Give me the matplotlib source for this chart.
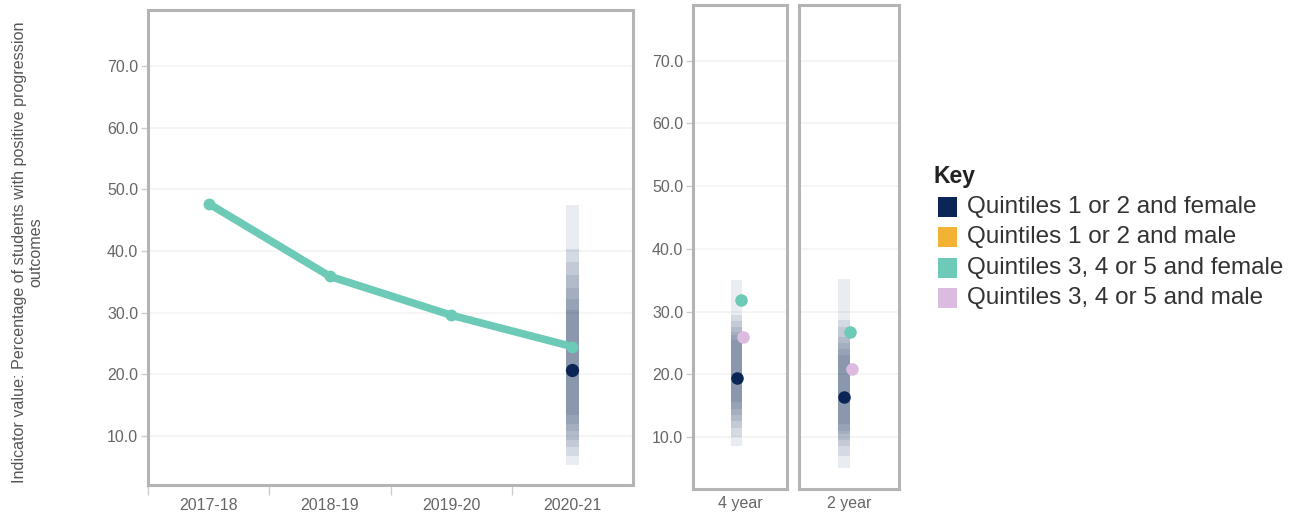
import numpy as np
import matplotlib.pyplot as plt
from matplotlib.patches import Rectangle

plt.rcParams['font.family'] = ['Liberation Sans', 'DejaVu Sans']

# trend for Quintiles 3, 4 or 5 and female
years = ["2017-18", "2018-19", "2019-20", "2020-21"]
q345_female_trend = [47.7, 35.9, 29.6, 24.5]
q12_female_latest = 20.7

# split by course length
lengths = ["4 year", "2 year"]
q12_female = [19.4, 16.3]
q345_female = [31.9, 26.8]
q345_male = [25.9, 20.9]

# nested uncertainty intervals (low, high), drawn as stacked translucent bars
band_latest = [(5.3, 47.4), (6.8, 40.3), (8.2, 38.2), (9.4, 36.1),
               (10.8, 34.0), (12.0, 32.2), (13.4, 30.4)]
band_lengths = [
    [(8.6, 35.0), (10.0, 29.5), (11.5, 28.5), (12.5, 27.5),
     (13.5, 26.8), (14.5, 26.2), (15.5, 25.5)],
    [(5.0, 35.2), (7.0, 28.7), (8.5, 27.5), (9.5, 26.0),
     (10.5, 25.0), (11.0, 24.0), (12.0, 23.0)],
]

key_labels = ["Quintiles 1 or 2 and female", "Quintiles 1 or 2 and male",
              "Quintiles 3, 4 or 5 and female", "Quintiles 3, 4 or 5 and male"]

NAVY = "#0b2556"
ORANGE = "#f2b233"
GREEN = "#6ccab7"
PINK = "#dbbbdf"
FRAME = "#b4b4b4"
TICK = "#666666"
GRID = "#f4f4f4"

yticks = [10, 20, 30, 40, 50, 60, 70]

fig = plt.figure(figsize=(12.98, 5.13), dpi=100)


def style_panel(ax, ylim, show_y=True):
    ax.set_ylim(*ylim)
    ax.set_yticks(yticks)
    ax.set_yticklabels(["{:.1f}".format(v) for v in yticks])
    ax.yaxis.grid(True, color=GRID, linewidth=1.2)
    ax.set_axisbelow(True)
    for s in ax.spines.values():
        s.set_color(FRAME)
        s.set_linewidth(2.2)
    ax.tick_params(axis='y', colors="#cccccc", labelcolor=TICK, labelsize=11.5,
                   length=5, width=1, pad=2)
    if not show_y:
        ax.tick_params(axis='y', length=0, labelleft=False)


def draw_band(ax, x, width, layers):
    for lo, hi in layers:
        ax.add_patch(Rectangle((x - width / 2, lo), width, hi - lo,
                               facecolor=NAVY, edgecolor="none", alpha=0.085, zorder=2))


# main trend panel
ax = fig.add_axes([148 / 1298, 1 - 485 / 513, 485 / 1298, 475 / 513])
style_panel(ax, (2.06, 79.1))
xs = np.arange(len(years))
ax.set_xlim(-0.5, len(years) - 0.5)
draw_band(ax, xs[-1], 0.107, band_latest)
ax.plot(xs, q345_female_trend, color=GREEN, linewidth=5.5, solid_capstyle='round',
        marker='o', markersize=7.5, zorder=3)
ax.plot(xs[-1], q12_female_latest, 'o', color=NAVY, markersize=8.5, zorder=4)
ax.set_xticks(xs)
ax.set_xticklabels(years)
ax.set_xticks([-0.5, 0.5, 1.5, 2.5], minor=True)
ax.tick_params(axis='x', which='major', length=0, labelsize=11.5, labelcolor=TICK, pad=9)
ax.tick_params(axis='x', which='minor', length=7, width=1, color="#cccccc")

ax.text(-0.248, 0.49, "Indicator value: Percentage of students with positive progression\noutcomes",
        transform=ax.transAxes, rotation=90, ha='center', va='center',
        fontsize=11.6, color="#555555", linespacing=1.1)

# course length panels
boxes = [(693, 94), (799, 100)]
band_offsets = [-0.037, -0.05]
green_offsets = [0.011, 0.01]
pink_offsets = [0.032, 0.03]
for i, name in enumerate(lengths):
    x0, w = boxes[i]
    axp = fig.add_axes([x0 / 1298, 1 - 489 / 513, w / 1298, 484 / 513])
    style_panel(axp, (1.7, 78.9), show_y=(i == 0))
    axp.set_xlim(-0.5, 0.5)
    draw_band(axp, band_offsets[i], 0.115, band_lengths[i])
    axp.plot(green_offsets[i], q345_female[i], 'o', color=GREEN, markersize=8, zorder=4)
    axp.plot(pink_offsets[i], q345_male[i], 'o', color=PINK, markersize=8, zorder=4)
    axp.plot(band_offsets[i], q12_female[i], 'o', color=NAVY, markersize=8, zorder=5)
    axp.set_xticks([0])
    axp.set_xticklabels([name])
    axp.tick_params(axis='x', length=0, labelsize=11.5, labelcolor=TICK, pad=5)

# key
fig.text(934 / 1298, 1 - 176 / 513, "Key", fontsize=16.5, fontweight='bold',
         color="#222222", va='center', ha='left')
key_colors = [NAVY, ORANGE, GREEN, PINK]
for k, (lab, col) in enumerate(zip(key_labels, key_colors)):
    yc = 207 + 30.3 * k
    fig.patches.append(Rectangle((938 / 1298, 1 - (yc + 10) / 513), 19 / 1298, 20 / 513,
                                 transform=fig.transFigure, facecolor=col, edgecolor="none"))
    fig.text(967 / 1298, 1 - yc / 513, lab, fontsize=17.5, color="#333333",
             va='center', ha='left')

fig.savefig("out.png", dpi=100, facecolor="white")
